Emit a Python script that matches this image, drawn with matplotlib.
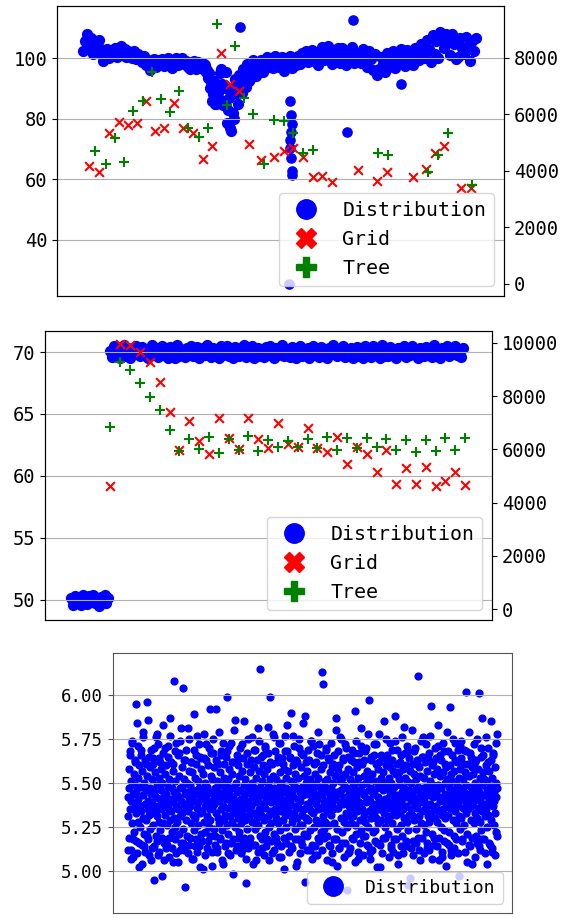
import numpy as np
import matplotlib
matplotlib.use('Agg')
import matplotlib.pyplot as plt
from matplotlib.lines import Line2D

plt.rcParams['font.family'] = 'DejaVu Sans Mono'
plt.rcParams['font.size'] = 13.5

# ---------------- top panel data ----------------
# distribution samples, one every 5 steps (0..995)
top_dist = [
    102.5, 105.5, 107.8, 104, 106.5, 101.5, 103.5, 101.8, 106, 103,
    99.2, 101.5, 103, 100.2, 102.4, 101, 103.2, 100.5, 102, 104,
    101.2, 103, 100.4, 102.5, 101.5, 100, 102.2, 99.6, 101.5, 100.5,
    98.8, 100.8, 97.8, 99.5, 96.2, 98.5, 99.8, 97.2, 99.5, 98.2,
    99.8, 97.5, 98.8, 100.2, 97.8, 96.6, 99, 100, 97.6, 98.8,
    100.2, 98, 99.2, 97.2, 96.3, 98.6, 99, 96.5, 98.8, 97.5,
    98.5, 96.5, 97.8, 96, 95, 92, 88, 85, 90.5, 86.5,
    96.5, 84.5, 90, 78.5, 87, 75.8, 82, 93, 88, 94.5,
    91, 96.5, 94, 98, 92.5, 97, 99.5, 95, 98.5, 96,
    99.5, 95.4, 98, 100.5, 97.2, 99, 96.8, 100.6, 98.2, 97,
    97.5, 100.5, 95.6, 99, 98, 100.8, 96.8, 99.5, 97.8, 100.6,
    98, 101.8, 99.5, 102.5, 98.6, 100.5, 102.8, 99, 101.5, 97.8,
    101.5, 103.8, 99.5, 102, 104, 100.2, 97.9, 102.8, 100.5, 103.5,
    98.5, 103.5, 101, 97.6, 102.5, 100, 103.6, 98.3, 101.8, 100.2,
    101.5, 98.5, 103, 100, 97.2, 102.5, 99.8, 96, 101.2, 94.5,
    96.5, 100.5, 98, 95.5, 101.8, 97.2, 99.5, 102.2, 96.8, 99.8,
    98.5, 103, 100.5, 97.4, 102.8, 99.5, 101.5, 97.8, 103.5, 100.8,
    99.5, 104.5, 102, 100, 106, 103, 98.8, 107.5, 101.5, 105.5,
    100, 108.5, 106, 103.5, 107.8, 105.5, 101, 108, 104.5, 99.8,
    100.5, 106.5, 103.5, 101.5, 107, 104, 99.2, 105.5, 102.5, 106.8,
]
# extra samples inside the dip (steps 302.5 .. 442.5)
top_dip = [97, 98, 95.5, 93.5, 90, 86, 92.5, 84.8, 88.5, 95,
           91.5, 86, 95.5, 83, 77, 89, 80, 92, 85, 91,
           88.5, 94.5, 90.5, 96, 93, 95.5, 97.5, 94, 97]
top_out_x = [397, 684, 668, 805, 522, 524, 526, 528, 527, 525, 523, 526, 530, 529]
top_out_y = [110.4, 112.6, 75.5, 91.5, 25.4, 85.7, 81.3, 78.3, 75.5, 73, 70.3, 67, 62.6, 61.4]

top_grid_x = [16, 41, 66, 91, 115, 136, 159, 182, 205, 230, 252, 278, 303, 327, 349, 372, 396, 421,
              451, 484, 509, 532, 556, 583, 606, 631, 697, 745, 770, 835, 868, 891, 915, 957, 982]
top_grid_y = [4180, 3950, 5350, 5730, 5620, 5710, 6470, 5410, 5510, 6410, 5510, 5350, 4420, 4900,
              8170, 7070, 6830, 4940, 4390, 4510, 4720, 4830, 4510, 3780, 3830, 3600, 4020, 3630,
              3950, 3770, 4080, 4650, 4900, 3400, 3400]
top_tree_x = [29, 57, 81, 104, 127, 151, 174, 198, 219, 242, 267, 293, 316, 339, 364, 385, 408, 431,
              459, 484, 510, 532, 558, 583, 748, 773, 873, 898, 923, 984]
top_tree_y = [4690, 4250, 5160, 4330, 6120, 6470, 7500, 6550, 6080, 6820, 5510, 5210, 5510, 9220,
              6350, 8440, 6590, 6010, 4240, 5800, 5770, 5330, 4650, 4750, 4630, 4570, 3950, 4550,
              5350, 3520]

# ---------------- middle panel data ----------------
mid_low = [50.1, 49.6, 50.3, 49.85, 50.2, 49.55, 50.35, 50.0, 49.65, 50.25,
           49.9, 50.4, 49.7, 50.1, 49.5, 50.2, 49.95, 50.35, 49.7, 50.15]
mid_high = [
    70.1, 69.6, 70.45, 69.9, 70.3, 69.5, 70.2, 70.55, 69.7, 70.0,
    69.55, 70.35, 69.85, 70.5, 70.05, 69.65, 70.4, 69.95, 70.25, 69.5,
    70.15, 70.6, 69.75, 70.3, 69.6, 70.0, 70.45, 69.8, 70.2, 69.55,
    70.4, 69.9, 70.1, 69.5, 70.55, 69.7, 70.25, 70.0, 69.6, 70.35,
    69.85, 70.5, 69.65, 70.15, 70.4, 69.55, 70.05, 70.3, 69.75, 70.6,
    70.0, 69.6, 70.35, 69.9, 70.2, 69.5, 70.45, 69.8, 70.1, 70.5,
    69.7, 70.25, 69.55, 70.4, 70.0, 69.65, 70.3, 69.85, 70.55, 69.6,
    70.2, 69.9, 70.45, 69.5, 70.1, 70.35, 69.7, 70.05, 69.6, 70.4,
    69.8, 70.5, 70.0, 69.55, 70.3, 69.75, 70.15, 70.6, 69.65, 70.25,
    70.05, 69.6, 70.4, 69.9, 69.5, 70.2, 70.45, 69.7, 70.1, 69.85,
    70.35, 69.55, 70.0, 70.5, 69.75, 70.25, 69.6, 70.4, 69.95, 70.15,
    69.5, 70.3, 69.85, 70.55, 70.05, 69.65, 70.2, 69.9, 70.45, 69.6,
    70.1, 69.75, 70.35, 69.5, 70.0, 70.4, 69.7, 70.25, 69.55, 70.5,
    69.9, 70.15, 69.6, 70.45, 69.8, 70.3, 70.0, 69.55, 70.6, 69.7,
    70.2, 69.65, 70.4, 69.95, 70.1, 69.5, 70.35, 69.85, 70.05, 70.5,
    69.6, 70.25, 69.75, 70.45, 69.9, 70.15, 69.55, 70.3, 70.0, 69.7,
    70.4, 69.8, 70.1, 69.6, 70.55, 69.95, 70.2, 69.5, 70.35, 69.85,
    70.05, 70.45, 69.65, 70.25, 69.9, 70.5, 69.75, 70.15, 69.6, 70.3,
]
mid_grid_y = [4640, 9960, 9900, 9640, 9290, 8520, 7400, 5980, 7050, 6320, 5840, 7170, 6420, 6000,
              7170, 6380, 6040, 6980, 6200, 6100, 6790, 6060, 5910, 6480, 5450, 6080, 5830, 5160,
              5980, 4700, 5290, 4700, 5350, 4640, 4810, 5160, 4660]
mid_tree_y = [6830, 9280, 8980, 8500, 7970, 7480, 6730, 5940, 6400, 6030, 6450, 5880, 6380, 5990,
              6490, 5950, 6350, 6080, 6330, 6070, 6390, 6040, 6480, 5980, 6440, 6040, 6440, 6080,
              6390, 5980, 6350, 5910, 6350, 5940, 6420, 5980, 6440]

# ---------------- bottom panel data ----------------
bottom_dist = [
    5.42, 5.31, 5.58, 5.19, 5.47, 5.66, 5.35, 5.12, 5.51, 5.40, 5.27, 5.73, 5.44, 5.08, 5.36, 5.55, 5.22, 5.49, 5.62, 5.33, 5.45, 5.17, 5.39, 5.84, 5.28, 5.53, 5.41, 5.02, 5.60, 5.37,
    5.25, 5.48, 5.69, 5.34, 5.15, 5.57, 5.43, 5.30, 5.76, 5.21, 5.50, 5.38, 5.63, 5.11, 5.46, 5.29, 5.54, 5.96, 5.35, 5.40, 5.18, 5.65, 5.32, 5.47, 5.24, 5.59, 5.06, 5.44, 5.36, 5.52,
    5.39, 5.61, 5.26, 5.45, 5.70, 5.14, 5.33, 5.56, 5.42, 5.20, 5.49, 5.78, 5.31, 5.37, 5.09, 5.53, 5.28, 5.64, 5.41, 5.23, 5.58, 5.46, 5.35, 4.97, 5.50, 5.27, 5.67, 5.43, 5.16, 5.38,
    5.55, 5.32, 5.44, 5.13, 5.60, 5.40, 5.26, 5.71, 5.48, 5.36, 5.19, 5.52, 5.29, 5.87, 5.41, 5.34, 5.62, 5.22, 5.47, 5.05, 5.39, 5.57, 5.30, 5.45, 5.68, 5.25, 5.51, 5.37, 5.10, 5.43,
    5.28, 5.66, 5.42, 5.35, 5.21, 5.54, 5.47, 5.31, 5.74, 5.16, 5.40, 5.59, 5.33, 5.48, 5.24, 6.04, 5.38, 5.52, 5.12, 5.44, 5.63, 5.29, 5.36, 5.50, 5.20, 5.45, 5.81, 5.34, 5.57, 5.41,
    5.15, 5.49, 5.37, 5.62, 5.27, 5.43, 5.07, 5.56, 5.32, 5.46, 5.69, 5.23, 5.40, 5.53, 5.30, 5.18, 5.61, 5.44, 5.36, 5.77, 5.26, 5.51, 5.39, 5.14, 5.47, 5.33, 5.65, 5.42, 5.21, 5.58,
    5.46, 5.34, 5.55, 5.01, 5.41, 5.28, 5.64, 5.37, 5.50, 5.22, 5.43, 5.72, 5.31, 5.48, 5.17, 5.39, 5.60, 5.25, 5.45, 5.35, 5.92, 5.29, 5.54, 5.40, 5.11, 5.52, 5.36, 5.67, 5.44, 5.24,
    5.38, 5.59, 5.20, 5.47, 5.33, 5.63, 5.42, 5.13, 5.51, 5.30, 5.45, 5.79, 5.27, 5.40, 5.56, 5.19, 5.35, 5.49, 5.66, 5.23, 5.43, 5.04, 5.37, 5.53, 5.29, 5.61, 5.46, 5.32, 5.16, 5.50,
    5.41, 5.26, 5.68, 5.36, 5.52, 5.21, 5.44, 5.58, 5.31, 5.09, 5.47, 5.39, 5.73, 5.28, 5.55, 5.34, 5.42, 5.18, 5.62, 5.48, 5.25, 5.37, 5.86, 5.33, 5.50, 5.14, 5.45, 5.60, 5.30, 5.40,
    5.22, 5.54, 5.35, 5.46, 5.70, 5.27, 5.41, 5.12, 5.57, 5.38, 5.32, 5.64, 5.49, 5.19, 5.43, 5.29, 5.52, 4.93, 5.36, 5.45, 5.61, 5.24, 5.40, 5.75, 5.31, 5.48, 5.17, 5.56, 5.34, 5.44,
    5.37, 5.63, 5.28, 5.50, 5.15, 5.42, 5.59, 5.33, 5.47, 5.24, 5.69, 5.39, 5.06, 5.53, 5.30, 5.45, 5.81, 5.26, 5.41, 5.57, 5.35, 5.20, 5.48, 5.65, 5.32, 5.44, 5.13, 5.51, 5.38, 5.60,
    5.43, 5.29, 5.55, 5.36, 5.71, 5.22, 5.46, 5.40, 5.18, 5.58, 5.31, 5.49, 5.67, 5.25, 5.42, 5.34, 5.99, 5.52, 5.27, 5.39, 5.10, 5.61, 5.45, 5.33, 5.54, 5.21, 5.47, 5.76, 5.35, 5.41,
    5.30, 5.52, 5.44, 5.16, 5.62, 5.38, 5.27, 5.48, 5.73, 5.34, 5.56, 5.23, 5.41, 5.08, 5.50, 5.36, 5.64, 5.29, 5.45, 5.19, 5.58, 5.40, 5.32, 5.68, 5.47, 5.25, 5.53, 5.37, 5.83, 5.43,
    5.57, 5.35, 5.20, 5.46, 5.39, 5.65, 5.31, 5.51, 5.14, 5.44, 5.28, 5.60, 5.42, 5.77, 5.33, 5.49, 5.24, 5.55, 5.37, 5.03, 5.47, 5.30, 5.62, 5.41, 5.18, 5.53, 5.36, 5.70, 5.26, 5.45,
    5.40, 5.17, 5.59, 5.32, 5.48, 5.26, 5.66, 5.43, 5.35, 5.54, 5.21, 5.45, 5.88, 5.30, 5.50, 5.38, 5.12, 5.57, 5.44, 5.29, 5.63, 5.36, 5.47, 5.23, 5.52, 5.40, 5.74, 5.34, 5.15, 5.49,
    5.33, 5.46, 5.61, 5.25, 5.42, 5.55, 5.09, 5.38, 5.50, 5.29, 5.67, 5.41, 5.19, 5.53, 5.35, 5.44, 5.72, 5.27, 5.48, 5.36, 5.58, 5.22, 5.43, 6.13, 5.31, 5.46, 5.60, 5.39, 5.24, 5.51,
    5.48, 5.28, 5.40, 5.69, 5.34, 5.52, 5.20, 5.45, 5.37, 5.63, 5.26, 5.56, 5.42, 5.14, 5.47, 5.32, 5.59, 5.39, 5.05, 5.50, 5.35, 5.66, 5.43, 5.27, 5.54, 5.41, 5.18, 5.80, 5.36, 5.45,
    5.24, 5.57, 5.36, 5.44, 5.13, 5.60, 5.39, 5.51, 5.30, 5.75, 5.46, 5.22, 5.53, 5.38, 5.64, 5.28, 5.42, 5.49, 5.16, 5.55, 5.33, 5.47, 5.70, 5.25, 5.40, 5.58, 5.31, 5.10, 5.44, 5.37,
    5.52, 5.41, 5.27, 5.63, 5.35, 5.48, 5.19, 5.56, 5.44, 5.31, 5.67, 5.38, 5.91, 5.26, 5.50, 5.42, 5.21, 5.59, 5.34, 5.46, 5.07, 5.53, 5.39, 5.62, 5.29, 5.45, 5.36, 5.71, 5.23, 5.49,
    5.35, 5.61, 5.45, 5.20, 5.54, 5.32, 5.43, 5.68, 5.28, 5.50, 5.39, 5.15, 5.57, 5.41, 5.25, 5.78, 5.46, 5.34, 5.52, 5.11, 5.40, 5.63, 5.30, 5.47, 5.36, 5.55, 5.22, 5.44, 5.66, 5.33,
    5.44, 5.23, 5.51, 5.38, 5.72, 5.30, 5.47, 5.16, 5.58, 5.42, 5.27, 5.62, 5.35, 5.49, 5.02, 5.53, 5.40, 5.29, 5.65, 5.37, 5.46, 5.19, 5.56, 5.33, 5.85, 5.41, 5.25, 5.50, 5.39, 5.60,
    5.29, 5.47, 5.64, 5.36, 5.21, 5.53, 5.42, 5.31, 5.59, 5.45, 5.13, 5.50, 5.38, 5.69, 5.27, 5.44, 5.57, 5.34, 5.18, 5.48, 5.40, 5.74, 5.32, 5.55, 5.24, 5.43, 5.61, 5.37, 5.09, 5.52,
    5.41, 5.56, 5.33, 5.49, 5.26, 5.66, 5.39, 5.45, 5.20, 5.58, 5.35, 5.47, 5.82, 5.30, 5.53, 5.42, 5.14, 5.60, 5.37, 5.28, 5.51, 5.44, 5.68, 5.23, 5.46, 5.32, 5.57, 4.96, 5.40, 5.35,
    5.50, 5.32, 5.45, 5.61, 5.17, 5.42, 5.55, 5.29, 5.70, 5.38, 5.46, 5.24, 5.52, 5.36, 5.63, 5.41, 5.19, 5.48, 5.31, 5.59, 5.44, 5.06, 5.54, 5.39, 5.27, 5.65, 5.43, 5.34, 5.76, 5.47,
    5.26, 5.53, 5.40, 5.35, 5.62, 5.22, 5.48, 5.37, 5.57, 5.13, 5.45, 5.31, 5.67, 5.43, 5.28, 5.51, 5.38, 5.94, 5.33, 5.46, 5.21, 5.60, 5.42, 5.49, 5.15, 5.55, 5.36, 5.44, 5.30, 5.64,
    5.45, 5.37, 5.58, 5.28, 5.49, 5.71, 5.34, 5.42, 5.19, 5.54, 5.40, 5.63, 5.25, 5.47, 5.32, 5.08, 5.56, 5.41, 5.35, 5.68, 5.23, 5.50, 5.44, 5.30, 5.59, 5.38, 5.16, 5.52, 5.79, 5.43,
    5.32, 5.48, 5.22, 5.60, 5.41, 5.36, 5.55, 5.12, 5.46, 5.39, 5.66, 5.29, 5.51, 5.44, 5.20, 5.57, 5.34, 5.73, 5.42, 5.27, 5.49, 5.37, 5.62, 5.10, 5.45, 5.31, 5.53, 5.40, 5.24, 5.58,
    5.47, 5.30, 5.64, 5.43, 5.18, 5.52, 5.36, 5.45, 5.69, 5.26, 5.40, 5.56, 5.33, 6.02, 5.49, 5.38, 5.21, 5.61, 5.44, 5.35, 5.54, 5.15, 5.42, 5.67, 5.29, 5.48, 5.37, 5.59, 5.04, 5.46,
    5.39, 5.55, 5.27, 5.44, 5.62, 5.33, 5.50, 5.20, 5.47, 5.41, 5.75, 5.30, 5.58, 5.36, 5.14, 5.45, 5.53, 5.28, 5.40, 5.65, 5.23, 5.49, 5.34, 5.87, 5.43, 5.56, 5.18, 5.38, 5.52, 5.31,
    5.43, 5.60, 5.35, 5.25, 5.51, 5.46, 5.70, 5.32, 5.41, 5.16, 5.57, 5.38, 5.48, 5.29, 5.63, 5.44, 5.11, 5.53, 5.37, 5.66, 5.26, 5.45, 5.40, 5.59, 5.33, 5.50, 5.22, 5.42, 5.78, 5.47,
]
# samples that fall in the shoulders/tails, interleaved at steps 1.5, 4.5, ...
bottom_wide = [
    5.12, 5.68, 5.07, 5.74, 5.18, 5.63, 5.95, 5.10, 5.71, 5.16, 5.66, 5.04, 5.79, 5.14, 5.61, 5.20, 5.86, 5.09, 5.69, 5.13, 5.64, 4.95, 5.76, 5.17, 5.72, 5.11, 5.62, 5.19, 5.83, 5.06,
    5.70, 5.15, 5.65, 5.08, 5.77, 5.13, 5.61, 6.08, 5.18, 5.73, 5.05, 5.67, 5.12, 5.81, 5.16, 5.63, 4.91, 5.69, 5.10, 5.75, 5.19, 5.62, 5.07, 5.89, 5.14, 5.66, 5.11, 5.72, 5.02, 5.64,
    5.17, 5.78, 5.09, 5.63, 5.13, 5.70, 5.20, 5.67, 5.03, 5.75, 5.15, 5.92, 5.11, 5.61, 5.18, 5.68, 5.06, 5.73, 5.14, 5.65, 5.99, 5.10, 5.71, 5.16, 5.62, 4.98, 5.80, 5.12, 5.66, 5.19,
    5.64, 5.10, 5.72, 5.16, 5.85, 5.07, 5.67, 5.13, 5.61, 5.19, 5.76, 5.04, 5.69, 5.15, 5.63, 5.11, 5.74, 6.15, 5.18, 5.66, 5.09, 5.70, 5.14, 5.82, 5.06, 5.62, 5.17, 5.78, 5.12, 5.68,
    5.19, 5.65, 5.08, 5.73, 5.14, 5.61, 5.01, 5.77, 5.16, 5.68, 5.11, 5.64, 5.90, 5.13, 5.71, 5.18, 5.63, 5.05, 5.75, 5.10, 5.67, 5.15, 5.84, 4.94, 5.62, 5.20, 5.69, 5.12, 5.74, 5.07,
    5.71, 5.14, 5.62, 5.09, 5.79, 5.17, 5.66, 5.12, 6.06, 5.19, 5.70, 5.06, 5.64, 5.15, 5.73, 5.10, 5.61, 5.18, 5.87, 5.03, 5.68, 5.13, 5.76, 5.16, 5.63, 5.08, 5.72, 4.89, 5.65, 5.11,
    5.13, 5.69, 5.18, 5.62, 5.05, 5.74, 5.11, 5.67, 5.16, 5.81, 5.09, 5.63, 5.20, 5.70, 5.14, 5.97, 5.07, 5.65, 5.12, 5.72, 5.17, 5.61, 5.02, 5.78, 5.15, 5.66, 5.10, 5.64, 5.19, 5.75,
    5.66, 5.08, 5.73, 5.15, 5.63, 5.11, 5.88, 5.18, 5.69, 5.04, 5.62, 5.14, 5.76, 5.10, 5.67, 5.17, 5.71, 4.92, 5.64, 5.13, 5.80, 5.09, 5.68, 5.16, 5.61, 6.11, 5.12, 5.74, 5.19, 5.65,
    5.10, 5.72, 5.16, 5.64, 5.12, 5.77, 5.07, 5.62, 5.19, 5.70, 5.14, 5.83, 5.06, 5.66, 5.11, 5.73, 5.17, 5.61, 5.03, 5.68, 5.15, 5.93, 5.09, 5.75, 5.13, 5.63, 5.18, 5.69, 4.97, 5.71,
    5.74, 5.17, 5.61, 5.11, 5.68, 5.05, 5.79, 5.14, 5.65, 5.19, 5.72, 5.08, 5.63, 5.16, 6.01, 5.12, 5.70, 5.18, 5.66, 5.10, 5.76, 5.04, 5.62, 5.15, 5.85, 5.13, 5.67, 5.09, 5.73, 5.20,
]


def make_handles(with_search):
    handles = [Line2D([], [], ls='', marker='o', color='blue', markersize=14, label='Distribution')]
    if with_search:
        handles.append(Line2D([], [], ls='', marker='X', color='red', markersize=14, label='Grid'))
        handles.append(Line2D([], [], ls='', marker='P', color='green', markersize=14, label='Tree'))
    return handles


fig = plt.figure(figsize=(5.69, 9.18), dpi=100)

# ---------- top ----------
ax = fig.add_axes([57 / 569, 1 - 296 / 918, 447 / 569, 290 / 918])
ax.scatter(np.arange(0, 1000, 5), top_dist, color='blue', s=50)
ax.scatter(np.arange(302.5, 445, 5), top_dip, color='blue', s=50)
ax.scatter(top_out_x, top_out_y, color='blue', s=44)
ax.set_ylim(21.5, 117.2)
ax.set_yticks([40, 60, 80, 100])
ax.set_xlim(-66, 1066)
ax.set_xticks([])
ax.grid(axis='y')
ax2 = ax.twinx()
ax2.scatter(top_grid_x, top_grid_y, marker='x', color='red', s=40)
ax2.scatter(top_tree_x, top_tree_y, marker='+', color='green', s=48)
ax2.set_ylim(-425, 9840)
ax2.set_yticks([0, 2000, 4000, 6000, 8000])
ax2.legend(handles=make_handles(True), loc='lower right', fontsize=14.3)

# ---------- middle ----------
ax = fig.add_axes([45 / 569, 1 - 620 / 918, 447 / 569, 289 / 918])
ax.scatter(np.arange(0, 100, 5), mid_low, color='blue', s=50)
ax.scatter(np.arange(100, 1000, 5), mid_high, color='blue', s=50)
ax.set_ylim(48.35, 71.7)
ax.set_yticks([50, 55, 60, 65, 70])
ax.set_xlim(-66, 1068)
ax.set_xticks([])
ax.grid(axis='y')
ax2 = ax.twinx()
ax2.scatter(np.arange(100, 1001, 25), mid_grid_y, marker='x', color='red', s=40)
ax2.scatter(np.arange(100, 1001, 25), mid_tree_y, marker='+', color='green', s=48)
ax2.set_ylim(-401, 10439)
ax2.set_yticks([0, 2000, 4000, 6000, 8000, 10000])
ax2.legend(handles=make_handles(True), loc='lower right', fontsize=14.3)

# ---------- bottom ----------
ax = fig.add_axes([113 / 569, 5 / 918, 399 / 569, 260 / 918])
ax.scatter(np.arange(len(bottom_dist)), bottom_dist, color='blue', s=24)
ax.scatter(np.arange(1.5, len(bottom_dist), 3), bottom_wide, color='blue', s=24)
ax.set_ylim(4.761, 6.239)
ax.set_yticks([5.0, 5.25, 5.5, 5.75, 6.0])
ax.set_yticklabels(['5.00', '5.25', '5.50', '5.75', '6.00'], fontsize=12.5)
ax.margins(x=0.04)
ax.set_xticks([])
ax.grid(axis='y')
for s in ax.spines.values():
    s.set_color('#555555')
ax.tick_params(colors='#555555', labelcolor='black')
ax.legend(handles=make_handles(False), loc='lower right', fontsize=13)

fig.savefig('out.png', dpi=100)
